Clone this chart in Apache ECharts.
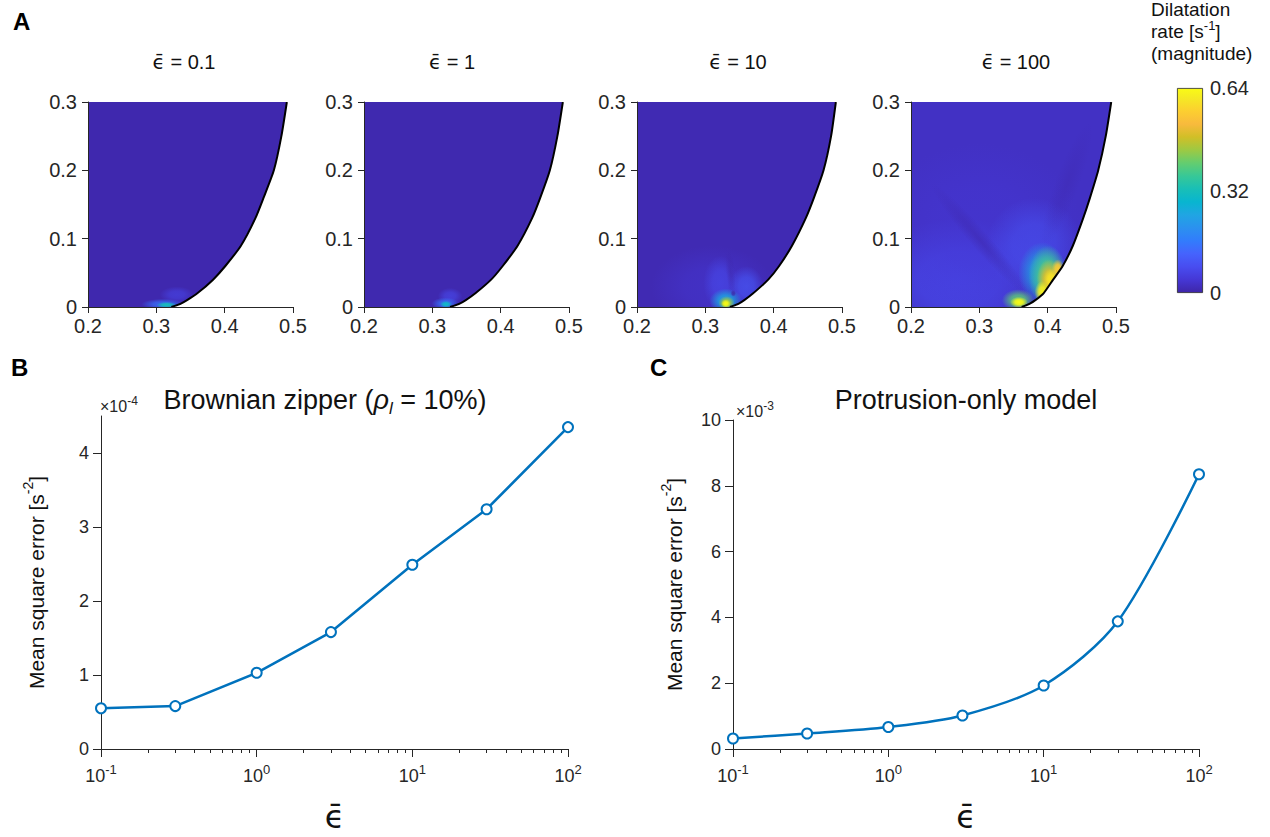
<!DOCTYPE html>
<html><head><meta charset="utf-8">
<script src="https://cdn.jsdelivr.net/npm/echarts@6/dist/echarts.min.js"></script>
<style>html,body{margin:0;padding:0;background:#fff}#c{width:1270px;height:837px}</style>
</head><body><div id="c"></div>
<script>
// ---------------- data ----------------
const panelLabels = ['0.1', '1', '10', '100'];
const fieldXTicks = [0.2, 0.3, 0.4, 0.5];
const fieldYTicks = [0, 0.1, 0.2, 0.3];
// boundary curve of each domain: x of the curve at these heights
const boundaryY = [0, 0.005, 0.01, 0.02, 0.04, 0.06, 0.09, 0.13, 0.16, 0.2, 0.25, 0.3];
const boundaryEps01  = [0.322, 0.336, 0.345, 0.360, 0.383, 0.401, 0.424, 0.445, 0.457, 0.472, 0.483, 0.491];
const boundaryEps1   = [0.326, 0.340, 0.349, 0.363, 0.386, 0.403, 0.425, 0.446, 0.458, 0.472, 0.483, 0.491];
const boundaryEps10  = [0.336, 0.349, 0.357, 0.370, 0.392, 0.408, 0.427, 0.447, 0.459, 0.473, 0.484, 0.491];
const boundaryEps100 = [0.362, 0.374, 0.382, 0.394, 0.408, 0.422, 0.437, 0.452, 0.462, 0.474, 0.485, 0.493];
// background dilatation rate level of each panel
const fieldBase = [0.005, 0.006, 0.01, 0.025];
// local features: [x, y, spreadX, spreadY, rate, opacity]
const spotsEps01 = [
  [0.330, 0.018, 0.025, 0.012, 0.06, 0.7],
  [0.310, 0.004, 0.032, 0.008, 0.15, 0.8],
  [0.315, 0.003, 0.015, 0.0045, 0.32, 1]
];
const spotsEps1 = [
  [0.326, 0.016, 0.018, 0.012, 0.07, 0.7],
  [0.319, 0.005, 0.020, 0.009, 0.15, 0.8],
  [0.320, 0.004, 0.009, 0.005, 0.30, 1]
];
const spotsEps10 = [
  [0.310, 0.030, 0.090, 0.060, 0.04, 0.5],
  [0.322, 0.035, 0.025, 0.040, 0.08, 0.6],
  [0.360, 0.030, 0.025, 0.030, 0.10, 0.7],
  [0.330, 0.009, 0.024, 0.018, 0.25, 0.9],
  [0.331, 0.006, 0.012, 0.010, 0.45, 1],
  [0.330, 0.005, 0.007, 0.006, 0.64, 1],
  [0.341, 0.020, 0.004, 0.005, 0.0, 0.8]
];
const spotsEps100 = [
  [0.270, 0.040, 0.130, 0.090, 0.07, 0.8],
  [0.300, 0.120, 0.150, 0.120, 0.04, 0.5],
  [0.380, 0.090, 0.070, 0.070, 0.09, 0.6],
  [0.392, 0.050, 0.035, 0.045, 0.25, 0.85],
  [0.400, 0.045, 0.028, 0.045, 0.38, 0.95],
  [0.402, 0.040, 0.018, 0.030, 0.50, 1],
  [0.392, 0.022, 0.011, 0.016, 0.62, 1],
  [0.405, 0.040, 0.011, 0.016, 0.60, 1],
  [0.415, 0.056, 0.009, 0.014, 0.56, 1],
  [0.357, 0.010, 0.024, 0.016, 0.40, 0.9],
  [0.358, 0.007, 0.013, 0.008, 0.64, 1]
];
// low-rate streaks: [x1, y1, x2, y2, rate, opacity, halfWidth]
const streaksEps01 = [];
const streaksEps1 = [];
const streaksEps10 = [[0.340, 0.018, 0.334, 0.085, 0.0, 0.5, 0.007]];
const streaksEps100 = [
  [0.372, 0.016, 0.230, 0.180, 0.0, 0.5, 0.014],
  [0.395, 0.090, 0.462, 0.270, 0.0, 0.3, 0.018]
];
const colorbarTicks = [0, 0.32, 0.64];

const epsValues = [0.1, 0.3, 1, 3, 10, 30, 100];
const mseBrownian = [0.55, 0.58, 1.03, 1.58, 2.49, 3.24, 4.35];   // x 1e-4
const mseProtrusion = [0.32, 0.47, 0.67, 1.02, 1.93, 3.88, 8.35]; // x 1e-3
const yTicksB = [0, 1, 2, 3, 4];
const yTicksC = [0, 2, 4, 6, 8, 10];
const minorLogTicks = [0.2,0.3,0.4,0.5,0.6,0.7,0.8,0.9,2,3,4,5,6,7,8,9,20,30,40,50,60,70,80,90];

// ---------------- style helpers ----------------
const boundaries = [boundaryEps01, boundaryEps1, boundaryEps10, boundaryEps100];
const spots = [spotsEps01, spotsEps1, spotsEps10, spotsEps100];
const streaks = [streaksEps01, streaksEps1, streaksEps10, streaksEps100];
const FONT = "'Liberation Sans', Arial, Helvetica, sans-serif";
const AX = '#262626';
const BLUE = '#0072BD';
const CMAX = colorbarTicks[colorbarTicks.length - 1];
const PARULA = [[0,62,38,168],[.063,69,55,213],[.127,72,77,240],[.19,69,99,253],[.254,50,124,252],[.317,43,145,239],[.381,32,165,227],[.444,8,181,208],[.508,25,191,182],[.571,55,200,151],[.635,100,205,111],[.698,157,201,67],[.762,209,191,39],[.825,248,186,61],[.889,252,207,48],[.952,245,233,36],[1,249,251,21]];
function parula(t) {
  t = Math.max(0, Math.min(1, t));
  for (let k = 1; k < PARULA.length; k++) {
    if (t <= PARULA[k][0]) {
      const a = PARULA[k-1], b = PARULA[k], f = (t - a[0]) / (b[0] - a[0]);
      return [0,1,2].map(j => Math.round(a[j+1] + (b[j+1] - a[j+1]) * f));
    }
  }
  return PARULA[PARULA.length-1].slice(1);
}
function rgba(c, a) { return 'rgba(' + c[0] + ',' + c[1] + ',' + c[2] + ',' + a + ')'; }

const gridLefts = [88, 364, 637, 911];
const titleCenters = [184, 452, 738, 1016];

const grids = [], xAxes = [], yAxes = [], series = [], graphics = [];

for (let p = 0; p < 4; p++) {
  grids.push({left: gridLefts[p], top: 102, width: 205, height: 205});
  xAxes.push({type: 'value', gridIndex: p, min: fieldXTicks[0], max: fieldXTicks[3], interval: 0.1, z: 10,
    axisLine: {lineStyle: {color: AX, width: 1.2}}, axisTick: {length: 6, lineStyle: {color: AX}},
    splitLine: {show: false}, axisLabel: {color: AX, fontSize: 20, fontFamily: FONT, margin: 9}});
  yAxes.push({type: 'value', gridIndex: p, min: fieldYTicks[0], max: fieldYTicks[3], interval: 0.1, z: 10,
    axisLine: {lineStyle: {color: AX}}, axisTick: {length: 6, lineStyle: {color: AX}},
    splitLine: {show: false}, axisLabel: {color: AX, fontSize: 20, fontFamily: FONT, margin: 11}});
  const bx = boundaries[p];
  const bdata = bx.map((x, k) => [x, boundaryY[k]]);
  // domain fill
  series.push({type: 'custom', xAxisIndex: p, yAxisIndex: p, clip: true, silent: true, data: bdata,
    renderItem: function (params, api) {
      if (params.dataIndex !== 0) return null;
      const pts = [api.coord([fieldXTicks[0], fieldYTicks[0]])];
      for (let k = 0; k < bx.length; k++) pts.push(api.coord([bx[k], boundaryY[k]]));
      pts.push(api.coord([fieldXTicks[0], fieldYTicks[3]]));
      return {type: 'polygon', shape: {points: pts}, style: {fill: rgba(parula(fieldBase[p] / CMAX), 1)}};
    }});
  // features
  series.push({type: 'custom', xAxisIndex: p, yAxisIndex: p, clip: true, silent: true, data: spots[p],
    renderItem: function (params, api) {
      const c = api.coord([api.value(0), api.value(1)]);
      const s = api.size([api.value(2), api.value(3)]);
      const col = parula(api.value(4) / CMAX), a = api.value(5);
      return {type: 'circle', shape: {cx: 0, cy: 0, r: 1}, x: c[0], y: c[1], scaleX: s[0], scaleY: s[1],
        style: {fill: {type: 'radial', x: 0.5, y: 0.5, r: 0.5, colorStops: [
          {offset: 0, color: rgba(col, a)}, {offset: 0.45, color: rgba(col, a * 0.85)}, {offset: 1, color: rgba(col, 0)}]}}};
    }});
  series.push({type: 'custom', xAxisIndex: p, yAxisIndex: p, clip: true, silent: true, data: streaks[p],
    renderItem: function (params, api) {
      const p1 = api.coord([api.value(0), api.value(1)]);
      const p2 = api.coord([api.value(2), api.value(3)]);
      const w = api.size([api.value(6), api.value(6)])[0];
      const col = parula(api.value(4) / CMAX), a = api.value(5);
      const dx = p2[0] - p1[0], dy = p2[1] - p1[1];
      const len = Math.sqrt(dx * dx + dy * dy) / 2;
      return {type: 'circle', shape: {cx: 0, cy: 0, r: 1}, x: (p1[0] + p2[0]) / 2, y: (p1[1] + p2[1]) / 2,
        scaleX: len, scaleY: w, rotation: Math.atan2(-dy, dx),
        style: {fill: {type: 'radial', x: 0.5, y: 0.5, r: 0.5, colorStops: [
          {offset: 0, color: rgba(col, a)}, {offset: 0.4, color: rgba(col, a * 0.6)}, {offset: 1, color: rgba(col, 0)}]}}};
    }});
  // mask outside the domain + boundary curve
  series.push({type: 'custom', xAxisIndex: p, yAxisIndex: p, clip: true, silent: true, data: bdata,
    renderItem: function (params, api) {
      if (params.dataIndex !== 0) return null;
      const curve = bx.map((x, k) => api.coord([x, boundaryY[k]]));
      const poly = curve.concat([api.coord([fieldXTicks[3], fieldYTicks[3]]), api.coord([fieldXTicks[3], fieldYTicks[0]])]);
      return {type: 'group', children: [
        {type: 'polygon', shape: {points: poly}, style: {fill: '#fff'}},
        {type: 'polyline', shape: {points: curve, smooth: 0.2}, style: {stroke: '#000', lineWidth: 2, fill: null}}
      ]};
    }});
  graphics.push({type: 'text', x: titleCenters[p], y: 62, style: {
    text: '{e|ϵ\u0304} = ' + panelLabels[p], fill: '#111', fontSize: 20, fontFamily: FONT,
    textAlign: 'center', textVerticalAlign: 'middle',
    rich: {e: {fontFamily: "'DejaVu Sans'", fontSize: 20, fill: '#111'}}}});
}

// colorbar (grid 4)
grids.push({left: 1177, top: 88, width: 26, height: 205});
xAxes.push({type: 'category', gridIndex: 4, data: ['rate'], show: false});
yAxes.push({type: 'value', gridIndex: 4, min: 0, max: CMAX, interval: 0.32, position: 'right',
  axisLine: {show: false}, axisTick: {show: false}, splitLine: {show: false},
  axisLabel: {color: AX, fontSize: 20, fontFamily: FONT, margin: 7}});
series.push({type: 'bar', xAxisIndex: 4, yAxisIndex: 4, data: [CMAX], barWidth: '100%', silent: true,
  itemStyle: {borderColor: AX, borderWidth: 0.8, color: {type: 'linear', x: 0, y: 1, x2: 0, y2: 0,
    colorStops: PARULA.map(s => ({offset: s[0], color: 'rgb(' + s[1] + ',' + s[2] + ',' + s[3] + ')'}))}}});

// line plots
function logAxes(gi) {
  return [
    {type: 'log', logBase: 10, gridIndex: gi, min: 0.1, max: 100, position: 'bottom',
      axisLine: {lineStyle: {color: AX, width: 1.2}}, axisTick: {length: 8, lineStyle: {color: AX}},
      splitLine: {show: false}, minorTick: {show: false},
      axisLabel: {color: AX, fontSize: 18, fontFamily: FONT, margin: 14, lineHeight: 26,
        formatter: v => '10{sup|' + Math.round(Math.log10(v)) + '}',
        rich: {sup: {fontSize: 13, fontFamily: FONT, color: AX, verticalAlign: 'top', lineHeight: 13}}},
      name: 'ϵ\u0304', nameLocation: 'middle', nameGap: 52,
      nameTextStyle: {fontSize: 32, fontFamily: "'DejaVu Sans'", color: '#111'}},
    {type: 'log', logBase: 10, gridIndex: gi, min: 0.1, max: 100, position: 'bottom',
      axisLine: {show: false}, axisLabel: {show: false}, splitLine: {show: false},
      axisTick: {length: 4, lineStyle: {color: AX}, customValues: minorLogTicks}}
  ];
}
function mseAxis(gi, maxV, ticks, gap) {
  return {type: 'value', gridIndex: gi, min: 0, max: maxV,
    axisLine: {lineStyle: {color: AX}}, axisTick: {length: 8, lineStyle: {color: AX}, customValues: ticks},
    splitLine: {show: false},
    axisLabel: {color: AX, fontSize: 18, fontFamily: FONT, margin: 12, customValues: ticks},
    name: 'Mean square error [s{sup|-2}]', nameLocation: 'middle', nameRotate: 90, nameGap: gap,
    nameTextStyle: {fontSize: 21, fontFamily: FONT, color: '#111', lineHeight: 30,
      rich: {sup: {fontSize: 14, fontFamily: FONT, color: '#111', verticalAlign: 'top', lineHeight: 14}}}};
}
grids.push({left: 101, top: 416, width: 467, height: 333});
xAxes.push(...logAxes(5));   // xAxis 5 (major), 6 (minor)
yAxes.push(mseAxis(5, 4.5, yTicksB, 50));   // yAxis 5
grids.push({left: 733, top: 420, width: 466, height: 329});
xAxes.push(...logAxes(6));   // xAxis 7 (major), 8 (minor)
yAxes.push(mseAxis(6, 10, yTicksC, 44));    // yAxis 6

const lineStyleCommon = {type: 'line', symbol: 'emptyCircle', symbolSize: 10, color: BLUE,
  lineStyle: {color: BLUE, width: 2.5}, itemStyle: {color: BLUE, borderColor: BLUE, borderWidth: 2.5}, silent: true, z: 5};
series.push(Object.assign({}, lineStyleCommon, {xAxisIndex: 5, yAxisIndex: 5,
  data: epsValues.map((e, i) => [e, mseBrownian[i]])}));
series.push(Object.assign({}, lineStyleCommon, {xAxisIndex: 7, yAxisIndex: 6, smooth: 0.3,
  data: epsValues.map((e, i) => [e, mseProtrusion[i]])}));

// texts
const bold = {fontSize: 24, fontWeight: 'bold', fontFamily: FONT, fill: '#000', textVerticalAlign: 'middle'};
graphics.push({type: 'text', x: 13, y: 21, style: Object.assign({text: 'A'}, bold)});
graphics.push({type: 'text', x: 11, y: 367, style: Object.assign({text: 'B'}, bold)});
graphics.push({type: 'text', x: 650, y: 367, style: Object.assign({text: 'C'}, bold)});
['Dilatation', 'rate [s{sup|-1}]', '(magnitude)'].forEach((t, i) => {
  graphics.push({type: 'text', x: 1151, y: 9 + i * 22, style: {text: t, fontSize: 19, fontFamily: FONT, fill: '#111',
    textAlign: 'left', textVerticalAlign: 'middle', lineHeight: 24,
    rich: {sup: {fontSize: 13, fontFamily: FONT, fill: '#111', verticalAlign: 'top', lineHeight: 13}}}});
});
graphics.push({type: 'text', x: 325, y: 400, style: {text: 'Brownian zipper ({i|ρ}{sub|l} = 10%)',
  fontSize: 27, fontFamily: FONT, fill: '#111', textAlign: 'center', textVerticalAlign: 'middle', lineHeight: 30,
  rich: {i: {fontSize: 27, fontStyle: 'italic', fontFamily: FONT, fill: '#111'},
         sub: {fontSize: 17, fontStyle: 'italic', fontFamily: FONT, fill: '#111', verticalAlign: 'top', padding: [15, 0, 0, 0], lineHeight: 17}}}});
graphics.push({type: 'text', x: 966, y: 400, style: {text: 'Protrusion-only model',
  fontSize: 27, fontFamily: FONT, fill: '#111', textAlign: 'center', textVerticalAlign: 'middle'}});
const expoStyle = {fontSize: 16, fontFamily: FONT, fill: AX, textAlign: 'left', textVerticalAlign: 'middle', lineHeight: 22,
  rich: {sup: {fontSize: 12, fontFamily: FONT, fill: AX, verticalAlign: 'top', lineHeight: 12}}};
graphics.push({type: 'text', x: 100, y: 406, style: Object.assign({text: '×10{sup|-4}'}, expoStyle)});
graphics.push({type: 'text', x: 736, y: 411, style: Object.assign({text: '×10{sup|-3}'}, expoStyle)});

const chart = echarts.init(document.getElementById('c'), null, {renderer: 'svg', width: 1270, height: 837});
chart.setOption({backgroundColor: '#fff', animation: false, grid: grids, xAxis: xAxes, yAxis: yAxes, series: series, graphic: graphics});
</script></body></html>
